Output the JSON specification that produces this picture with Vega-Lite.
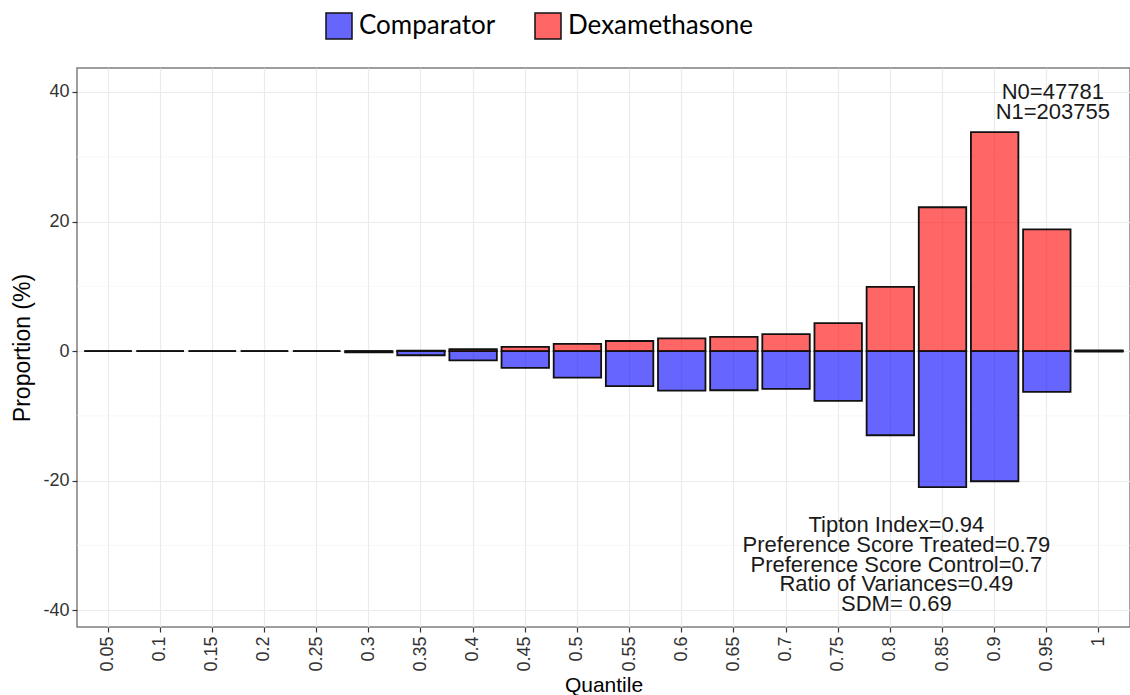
{
  "$schema": "https://vega.github.io/schema/vega-lite/v6.json",
  "width": 1053,
  "height": 559,
  "autosize": {"type": "none"},
  "padding": {"left": 77, "top": 68, "right": 0, "bottom": 68},
  "background": "white",
  "config": {
    "view": {"stroke": "#7f7f7f", "strokeWidth": 1.5},
    "axis": {
      "gridColor": "#ebebeb",
      "gridWidth": 1.2,
      "domain": false,
      "tickColor": "#333333",
      "tickSize": 5,
      "tickWidth": 1.2,
      "labelColor": "#333333",
      "labelFont": "Liberation Sans",
      "titleFont": "Liberation Sans",
      "titleFontWeight": "normal",
      "titleColor": "#000000"
    },
    "text": {"font": "Liberation Sans"}
  },
  "data": {
    "values": [
      {"q": 0.05, "group": "Comparator", "value": 0},
      {"q": 0.05, "group": "Dexamethasone", "value": 0},
      {"q": 0.1, "group": "Comparator", "value": 0},
      {"q": 0.1, "group": "Dexamethasone", "value": 0},
      {"q": 0.15, "group": "Comparator", "value": 0},
      {"q": 0.15, "group": "Dexamethasone", "value": 0},
      {"q": 0.2, "group": "Comparator", "value": 0},
      {"q": 0.2, "group": "Dexamethasone", "value": 0},
      {"q": 0.25, "group": "Comparator", "value": 0},
      {"q": 0.25, "group": "Dexamethasone", "value": 0},
      {"q": 0.3, "group": "Comparator", "value": -0.2},
      {"q": 0.3, "group": "Dexamethasone", "value": 0},
      {"q": 0.35, "group": "Comparator", "value": -0.65},
      {"q": 0.35, "group": "Dexamethasone", "value": 0.05},
      {"q": 0.4, "group": "Comparator", "value": -1.45},
      {"q": 0.4, "group": "Dexamethasone", "value": 0.3},
      {"q": 0.45, "group": "Comparator", "value": -2.6},
      {"q": 0.45, "group": "Dexamethasone", "value": 0.65},
      {"q": 0.5, "group": "Comparator", "value": -4.1},
      {"q": 0.5, "group": "Dexamethasone", "value": 1.1},
      {"q": 0.55, "group": "Comparator", "value": -5.4},
      {"q": 0.55, "group": "Dexamethasone", "value": 1.55},
      {"q": 0.6, "group": "Comparator", "value": -6.1},
      {"q": 0.6, "group": "Dexamethasone", "value": 1.95},
      {"q": 0.65, "group": "Comparator", "value": -6.05},
      {"q": 0.65, "group": "Dexamethasone", "value": 2.2},
      {"q": 0.7, "group": "Comparator", "value": -5.85},
      {"q": 0.7, "group": "Dexamethasone", "value": 2.6},
      {"q": 0.75, "group": "Comparator", "value": -7.7},
      {"q": 0.75, "group": "Dexamethasone", "value": 4.3},
      {"q": 0.8, "group": "Comparator", "value": -13.0},
      {"q": 0.8, "group": "Dexamethasone", "value": 9.9},
      {"q": 0.85, "group": "Comparator", "value": -21.0},
      {"q": 0.85, "group": "Dexamethasone", "value": 22.2},
      {"q": 0.9, "group": "Comparator", "value": -20.1},
      {"q": 0.9, "group": "Dexamethasone", "value": 33.8},
      {"q": 0.95, "group": "Comparator", "value": -6.3},
      {"q": 0.95, "group": "Dexamethasone", "value": 18.8},
      {"q": 1, "group": "Comparator", "value": -0.1},
      {"q": 1, "group": "Dexamethasone", "value": 0.1}
    ]
  },
  "layer": [
    {
      "data": {"values": [{"g": -30}, {"g": -10}, {"g": 10}, {"g": 30}]},
      "mark": {"type": "rule", "stroke": "#f3f3f3", "strokeWidth": 0.7},
      "encoding": {
        "y": {
          "field": "g",
          "type": "quantitative",
          "scale": {"domain": [-42.6, 43.7], "nice": false, "zero": false},
          "axis": {
            "title": "Proportion (%)",
            "titleFontSize": 23,
            "titlePadding": 8,
            "values": [-40, -20, 0, 20, 40],
            "labelExpr": "datum.value < 0 ? '-' + abs(datum.value) : '' + datum.value",
            "labelFontSize": 18,
            "labelPadding": 3,
            "grid": true
          }
        }
      }
    },
    {
      "mark": {"type": "bar", "fillOpacity": 0.6, "stroke": "#111111", "strokeWidth": 1.8},
      "encoding": {
        "x": {
          "field": "q",
          "type": "ordinal",
          "scale": {"paddingInner": 0.09, "paddingOuter": 0.14},
          "axis": {
            "title": "Quantile",
            "titleFontSize": 21,
            "titlePadding": 3,
            "labelAngle": 270,
            "labelAlign": "right",
            "labelBaseline": "middle",
            "labelFontSize": 18,
            "labelPadding": 4,
            "bandPosition": 0.5,
            "grid": true
          }
        },
        "y": {
          "field": "value",
          "type": "quantitative",
          "stack": "zero",
          "scale": {"domain": [-42.6, 43.7], "nice": false, "zero": false},
          "axis": {
            "title": "Proportion (%)",
            "titleFontSize": 23,
            "titlePadding": 8,
            "values": [-40, -20, 0, 20, 40],
            "labelExpr": "datum.value < 0 ? '-' + abs(datum.value) : '' + datum.value",
            "labelFontSize": 18,
            "labelPadding": 3,
            "grid": true
          }
        },
        "color": {
          "field": "group",
          "type": "nominal",
          "scale": {"domain": ["Comparator", "Dexamethasone"], "range": ["#0000ff", "#ff0000"]},
          "legend": {
            "title": null,
            "orient": "none",
            "direction": "horizontal",
            "legendX": 248,
            "legendY": -56,
            "padding": 0,
            "symbolType": "square",
            "symbolSize": 676,
            "symbolStrokeColor": "#111111",
            "symbolStrokeWidth": 1.5,
            "labelFont": "Lato",
            "labelFontSize": 26,
            "labelColor": "#000000",
            "labelOffset": 6,
            "columnPadding": 36,
            "labelLimit": 400,
            "encode": {"symbols": {"update": {"fillOpacity": {"value": 0.6}}}}
          }
        }
      }
    },
    {
      "data": {
        "values": [
          {"q": 0.95, "y": 40.0, "label": "N0=47781\nN1=203755"},
          {"q": 0.8, "y": -26.9, "label": "Tipton Index=0.94\nPreference Score Treated=0.79\nPreference Score Control=0.7\nRatio of Variances=0.49\nSDM= 0.69"}
        ]
      },
      "mark": {"type": "text", "fontSize": 22, "lineHeight": 19.7, "lineBreak": "\n", "align": "center", "baseline": "middle", "color": "#1a1a1a", "dx": 6},
      "encoding": {
        "x": {"field": "q", "type": "ordinal"},
        "y": {"field": "y", "type": "quantitative"},
        "text": {"field": "label", "type": "nominal"}
      }
    }
  ]
}
